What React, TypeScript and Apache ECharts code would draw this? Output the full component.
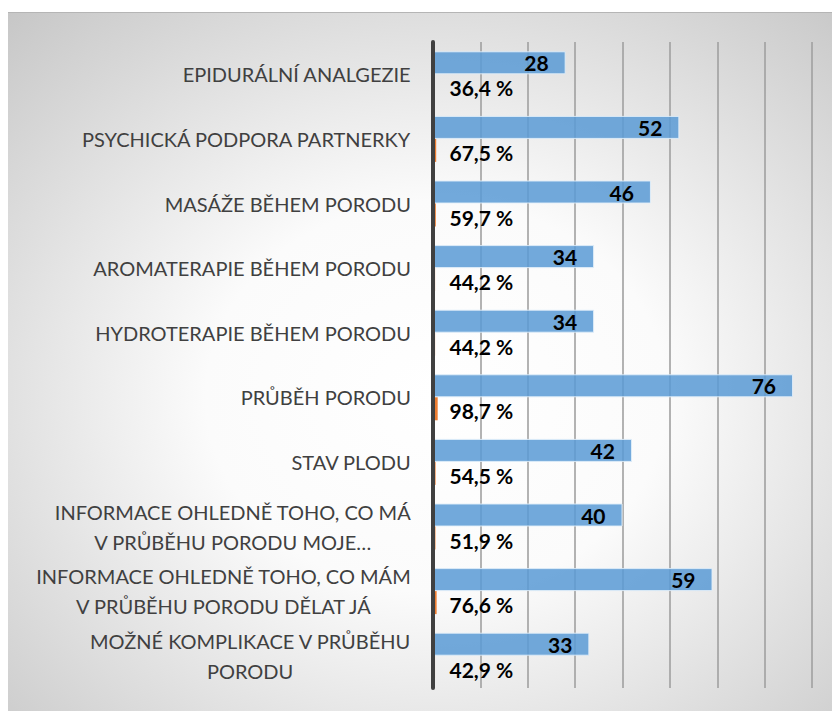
import React, { useEffect, useRef } from "react";
import * as echarts from "echarts";

const categories = [
  "EPIDURÁLNÍ ANALGEZIE",
  "PSYCHICKÁ PODPORA PARTNERKY",
  "MASÁŽE BĚHEM PORODU",
  "AROMATERAPIE BĚHEM PORODU",
  "HYDROTERAPIE BĚHEM PORODU",
  "PRŮBĚH PORODU",
  "STAV PLODU",
  "INFORMACE OHLEDNĚ TOHO, CO MÁ\nV PRŮBĚHU PORODU MOJE…",
  "INFORMACE OHLEDNĚ TOHO, CO MÁM\nV PRŮBĚHU PORODU DĚLAT JÁ",
  "MOŽNÉ KOMPLIKACE V PRŮBĚHU\nPORODU",
];
const counts = [28, 52, 46, 34, 34, 76, 42, 40, 59, 33];
const shares = [0.364, 0.675, 0.597, 0.442, 0.442, 0.987, 0.545, 0.519, 0.766, 0.429];
const xMax = 80;
const xStep = 10;

const FONT = "Lato";

export default function App() {
  const ref = useRef<HTMLDivElement>(null);
  useEffect(() => {
    if (!ref.current) return;
    const chart = echarts.init(ref.current, null, { renderer: "svg" });
    chart.setOption({
      animation: false,
      backgroundColor: {
        type: "radial",
        x: 0.52,
        y: 0.55,
        r: 0.8,
        colorStops: [
          { offset: 0, color: "#ffffff" },
          { offset: 0.35, color: "#fbfbfb" },
          { offset: 1, color: "#c2c2c2" },
        ],
      },
      grid: { left: 425, top: 30, bottom: 23, right: 20, containLabel: false },
      xAxis: {
        type: "value",
        min: 0,
        max: xMax,
        interval: xStep,
        axisLabel: { show: false },
        axisLine: { show: false },
        axisTick: { show: false },
        splitLine: { show: true, lineStyle: { color: "#a0a0a0", width: 1.6 } },
      },
      yAxis: {
        type: "category",
        data: categories,
        inverse: true,
        z: 3,
        axisTick: { show: false },
        axisLine: { show: true, lineStyle: { color: "#404040", width: 4 } },
        axisLabel: {
          margin: 22,
          align: "right",
          formatter: (v: string) =>
            v
              .split("\n")
              .map((l) => `{c|${l}}`)
              .join("\n"),
          rich: {
            c: {
              align: "center",
              fontFamily: FONT,
              fontSize: 20,
              color: "#404040",
              lineHeight: 30,
            },
          },
        },
      },
      series: [
        {
          type: "bar",
          name: "počet",
          data: counts,
          barWidth: 23,
          barGap: "0%",
          itemStyle: {
            color: "rgba(91,155,213,0.86)",
            borderColor: "rgba(225,238,250,0.9)",
            borderWidth: 1,
          },
          label: {
            show: true,
            position: "insideRight",
            distance: 17,
            fontFamily: FONT,
            fontWeight: "bold",
            fontSize: 21,
            color: "#000000",
          },
        },
        {
          type: "bar",
          name: "podíl",
          data: shares,
          barWidth: 23,
          barGap: "0%",
          itemStyle: { color: "#ed7d31" },
          label: {
            show: true,
            position: "insideLeft",
            distance: 16.5,
            offset: [0, 2],
            fontFamily: FONT,
            fontWeight: "bold",
            fontSize: 21,
            color: "#000000",
            formatter: (p: any) =>
              (p.value * 100).toFixed(1).replace(".", ",") + " %",
          },
        },
      ],
      graphic: [
        {
          type: "line",
          shape: { x1: 0, y1: 0.5, x2: 824, y2: 0.5 },
          style: { stroke: "#b5b5b5", lineWidth: 1 },
        },
      ],
    });
    return () => chart.dispose();
  }, []);
  return (
    <div
      ref={ref}
      style={{ position: "absolute", left: 8, top: 12, width: 824, height: 699 }}
    />
  );
}
